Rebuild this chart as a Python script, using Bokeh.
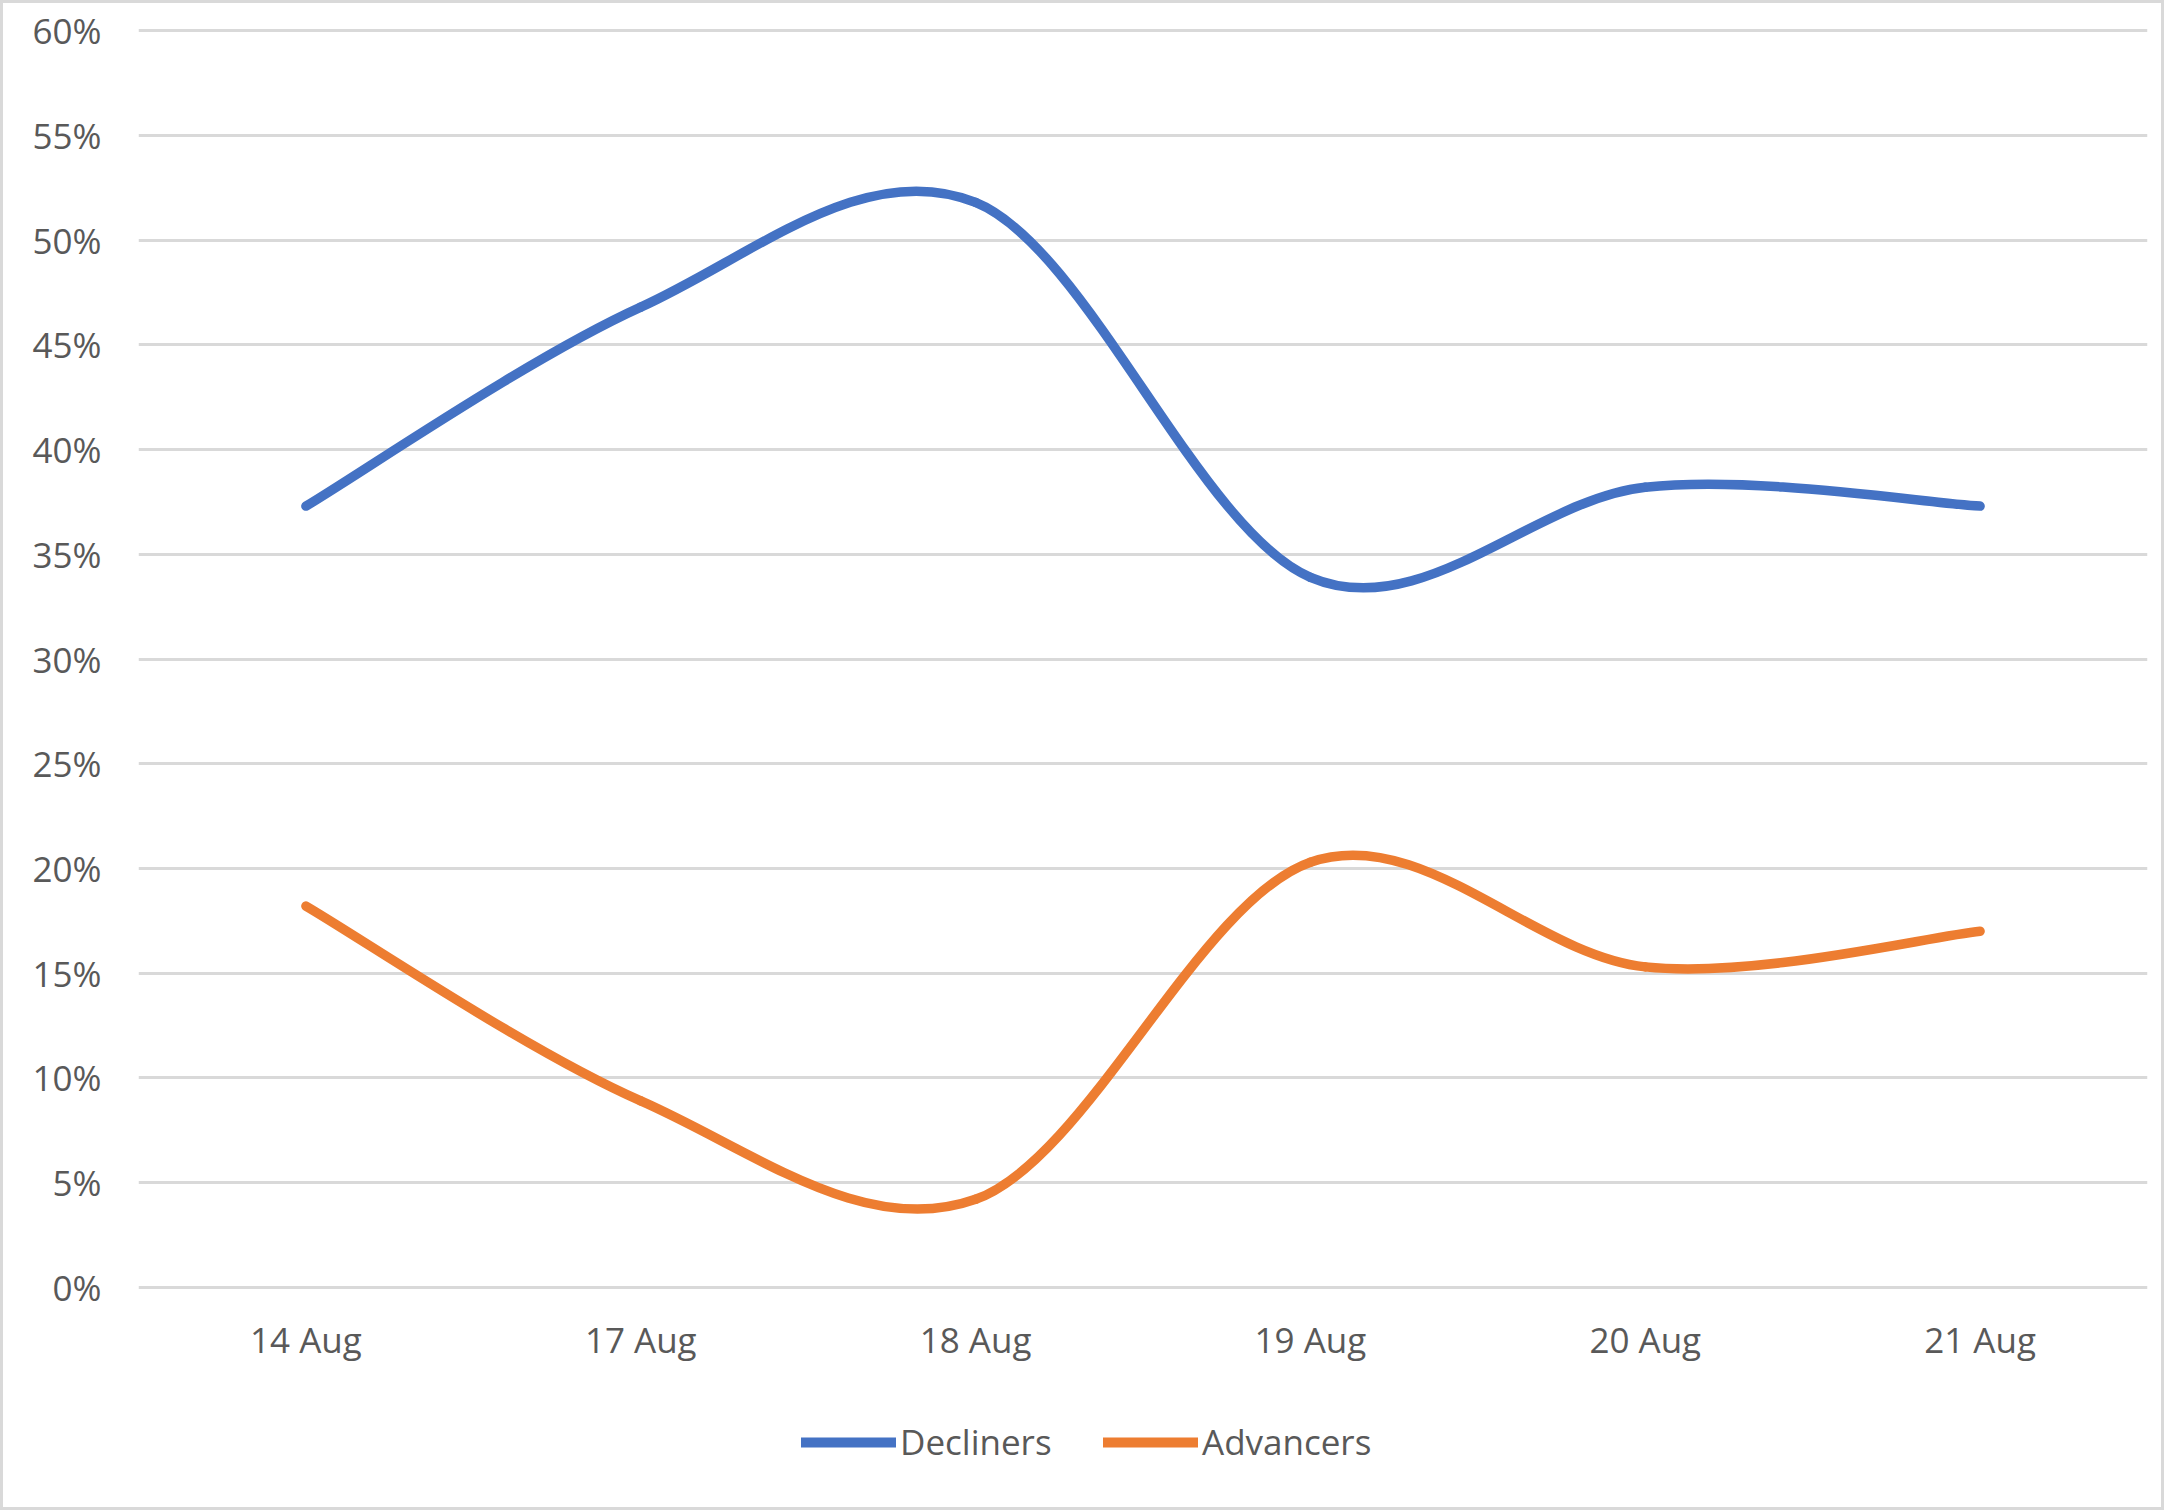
from bokeh.plotting import figure
from bokeh.layouts import column
from bokeh.models import (Range1d, FixedTicker, NumeralTickFormatter, Legend, LegendItem,
                          ColumnDataSource)
from bokeh.embed import file_html
from bokeh.resources import INLINE

# ---- data ----
dates = ["14 Aug", "17 Aug", "18 Aug", "19 Aug", "20 Aug", "21 Aug"]
decliners = [0.373, 0.468, 0.518, 0.339, 0.382, 0.373]
advancers = [0.182, 0.089, 0.042, 0.203, 0.153, 0.170]
y_ticks = [0.0, 0.05, 0.10, 0.15, 0.20, 0.25, 0.30, 0.35, 0.40, 0.45, 0.50, 0.55, 0.60]
series_names = ["Decliners", "Advancers"]

FONT = "Open Sans"
TXT = "#595959"
GRID = "#d9d9d9"
BLUE = "#4472C4"
ORANGE = "#ED7D31"

xs = list(range(len(dates)))


def smooth_segments(x, y):
    """Excel-like smoothed line: cubic Bezier segments (Catmull-Rom, 1/6 tension)."""
    n = len(x)
    seg = dict(x0=[], y0=[], x1=[], y1=[], cx0=[], cy0=[], cx1=[], cy1=[])
    for i in range(n - 1):
        p0 = i - 1 if i > 0 else i
        p3 = i + 2 if i + 2 < n else i + 1
        seg["x0"].append(x[i]); seg["y0"].append(y[i])
        seg["x1"].append(x[i + 1]); seg["y1"].append(y[i + 1])
        seg["cx0"].append(x[i] + (x[i + 1] - x[p0]) / 6.0)
        seg["cy0"].append(y[i] + (y[i + 1] - y[p0]) / 6.0)
        seg["cx1"].append(x[i + 1] - (x[p3] - x[i]) / 6.0)
        seg["cy1"].append(y[i + 1] - (y[p3] - y[i]) / 6.0)
    return ColumnDataSource(seg)


W = 2158
H_MAIN = 1390
H_LEG = 114

p = figure(width=W, height=H_MAIN, output_backend="svg", toolbar_location=None,
           x_range=Range1d(-0.5, len(dates) - 0.5), y_range=Range1d(-0.002, 0.602),
           min_border_left=135, min_border_right=14, min_border_top=23,
           min_border_bottom=102, background_fill_color="white",
           border_fill_color="white")
p.outline_line_color = None

# axes
p.yaxis.ticker = FixedTicker(ticks=y_ticks)
p.yaxis.formatter = NumeralTickFormatter(format="0%")
p.xaxis.ticker = FixedTicker(ticks=xs)
p.xaxis.major_label_overrides = {i: d for i, d in enumerate(dates)}
for ax in (p.xaxis, p.yaxis):
    ax.axis_line_color = None
    ax.major_tick_line_color = None
    ax.minor_tick_line_color = None
    ax.major_tick_out = 0
    ax.major_tick_in = 0
    ax.major_label_text_font = FONT
    ax.major_label_text_font_size = "35px"
    ax.major_label_text_color = TXT
p.yaxis.major_label_standoff = 37
p.xaxis.major_label_standoff = 24

p.xgrid.grid_line_color = None
p.ygrid.grid_line_color = GRID
p.ygrid.grid_line_width = 3

colors = [BLUE, ORANGE]
for vals, col in zip((decliners, advancers), colors):
    src = smooth_segments(xs, vals)
    p.bezier(x0="x0", y0="y0", x1="x1", y1="y1", cx0="cx0", cy0="cy0",
             cx1="cx1", cy1="cy1", source=src, line_color=col, line_width=9.5,
             line_cap="round", line_join="round")

# ---- legend strip (separate figure below the chart) ----
pl = figure(width=W, height=H_LEG, output_backend="svg", toolbar_location=None,
            x_range=Range1d(0, 1), y_range=Range1d(0, 1),
            min_border_left=0, min_border_right=0, min_border_top=0,
            min_border_bottom=0, background_fill_color="white",
            border_fill_color="white")
pl.axis.visible = False
pl.grid.visible = False
pl.outline_line_color = None

items = []
nan = float("nan")
for name, col in zip(series_names, colors):
    # proxy renderer that draws nothing itself; only supplies the legend swatch
    r = pl.line(x=[nan], y=[nan], line_color=col, line_width=10, line_cap="round")
    items.append(LegendItem(label=name, renderers=[r]))

legend = Legend(items=items, orientation="horizontal", location=(663, 42),
                glyph_width=95, glyph_height=40, label_height=40,
                label_width=203, label_standoff=4, spacing=0,
                padding=0, margin=0, border_line_color=None,
                background_fill_alpha=0,
                label_text_font=FONT, label_text_font_size="35px",
                label_text_color=TXT)
pl.add_layout(legend, "center")

layout = column(p, pl, spacing=0)
layout.styles = {"border": "3px solid #d9d9d9"}

open("out.html", "w").write(file_html(layout, INLINE, title="Decliners vs Advancers"))
